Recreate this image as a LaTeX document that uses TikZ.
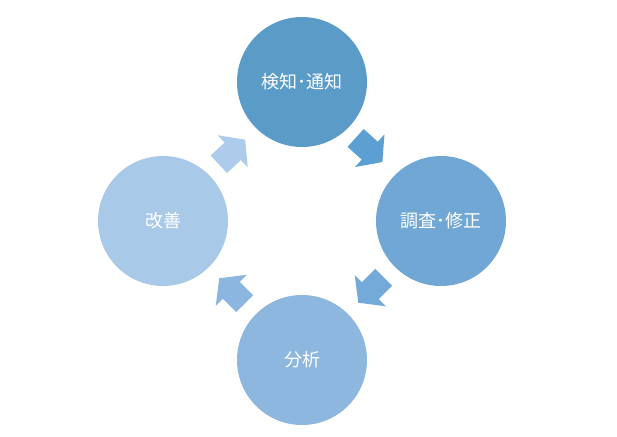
\documentclass[tikz,border=0pt]{standalone}
\usepackage{fontspec}
\newfontfamily\cjk{Noto Sans CJK JP}
\definecolor{cA}{HTML}{5A9BC8}
\definecolor{cB}{HTML}{70A7D5}
\definecolor{cC}{HTML}{8DB7DF}
\definecolor{cD}{HTML}{A9C9E9}
\definecolor{aA}{HTML}{5C9FD2}
\definecolor{aB}{HTML}{74AADA}
\definecolor{aC}{HTML}{8BB6E0}
\definecolor{aD}{HTML}{ADCBEB}
\tikzset{
  stage/.style={circle, minimum size=130pt, inner sep=0pt, text=white, font=\cjk\fontsize{18}{21}\selectfont},
}
\newcommand{\blockarrow}[3]{%
  \begin{scope}[shift={(#1)}, rotate=#2]
    \fill[#3] (-18pt,-12pt) -- (1pt,-12pt) -- (1pt,-22pt) -- (18pt,0pt) -- (1pt,22pt) -- (1pt,12pt) -- (-18pt,12pt) -- cycle;
  \end{scope}}
\begin{document}
\begin{tikzpicture}[x=1pt,y=-1pt]
\useasboundingbox (0,0) rectangle (617,436);
\node[stage, fill=cA] (detect) at (302,82) {検知･通知};
\node[stage, fill=cB] (fix) at (441,221) {調査･修正};
\node[stage, fill=cC] (analyze) at (302,360) {分析};
\node[stage, fill=cD] (improve) at (163,221) {改善};
\coordinate (a1) at (369,150);
\coordinate (a2) at (371,290);
\coordinate (a3) at (232,291);
\coordinate (a4) at (232,152);
\blockarrow{a1}{-42}{aA}
\blockarrow{a2}{-135}{aB}
\blockarrow{a3}{135}{aC}
\blockarrow{a4}{43}{aD}
\end{tikzpicture}
\end{document}
